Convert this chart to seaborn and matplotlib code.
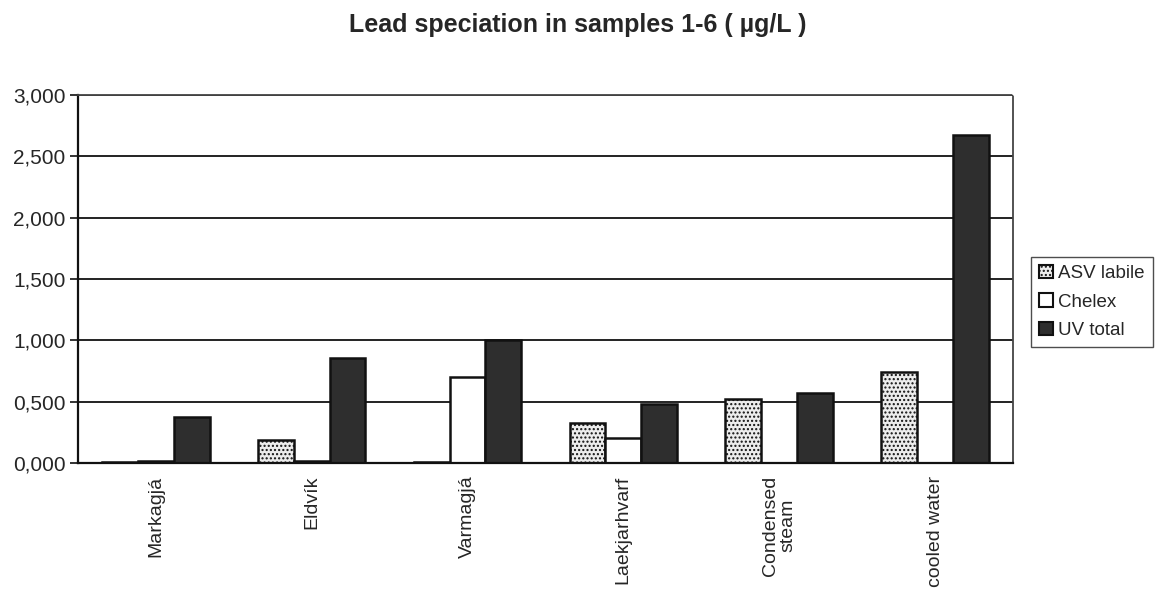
import numpy as np
import pandas as pd
import matplotlib
matplotlib.use("Agg")
import matplotlib.pyplot as plt
from matplotlib.patches import Patch
from matplotlib.ticker import FuncFormatter, MultipleLocator, FixedLocator
import seaborn as sns

# Sample sites and lead fractions (µg/L)
sites = ["Markagjá", "Eldvík", "Varmagjá", "Laekjarhvarf", "Condensed\nsteam", "cooled water"]
series = ["ASV labile", "Chelex", "UV total"]
asv_labile = [0.005, 0.190, 0.010, 0.330, 0.525, 0.745]
chelex = [0.015, 0.020, 0.700, 0.200, 0.000, 0.000]
uv_total = [0.375, 0.860, 1.000, 0.485, 0.570, 2.675]

df = pd.DataFrame({
    "site": sites * 3,
    "fraction": [series[0]] * 6 + [series[1]] * 6 + [series[2]] * 6,
    "value": asv_labile + chelex + uv_total,
})

sns.set_style("white")
plt.rcParams["font.family"] = ["Liberation Sans", "DejaVu Sans"]
plt.rcParams["hatch.color"] = "#333333"
plt.rcParams["hatch.linewidth"] = 1.0

fills = {"ASV labile": "#ececec", "Chelex": "#ffffff", "UV total": "#2e2e2e"}
hatches = {"ASV labile": "....", "Chelex": "", "UV total": ""}

fig = plt.figure(figsize=(11.55, 5.91), dpi=100)
ax = fig.add_axes([0.0675, 0.2166, 0.8095, 0.6226])

sns.barplot(data=df, x="site", y="value", hue="fraction", hue_order=series,
            palette=fills, width=0.69, gap=0, edgecolor="#111111", linewidth=1.8,
            errorbar=None, legend=False, ax=ax)

for container, name in zip(ax.containers, series):
    for bar in container:
        bar.set_hatch(hatches[name])

ax.set_ylim(0, 3.0)
ax.set_xlim(-0.5, len(sites) - 0.5)
ax.yaxis.set_major_locator(MultipleLocator(0.5))
ax.yaxis.set_major_formatter(FuncFormatter(lambda v, p: f"{v:,.3f}".replace(".", ",")))
ax.grid(axis="y", color="#111111", linewidth=1.3)
ax.set_axisbelow(True)

ax.set_xlabel("")
ax.set_ylabel("")
ax.set_xticks(range(len(sites)))
ax.set_xticklabels(sites, rotation=90, fontsize=14, linespacing=1.0)
ax.tick_params(axis="x", which="major", length=0, pad=9)
ax.xaxis.set_minor_locator(FixedLocator(np.arange(-0.5, len(sites), 1.0)))
ax.tick_params(axis="x", which="minor", direction="inout", length=10, width=1.2, color="#111111")
ax.tick_params(axis="y", which="major", direction="out", length=6, width=1.2,
               color="#111111", labelsize=15, left=True, pad=3)

for side in ["left", "bottom"]:
    ax.spines[side].set_color("#111111")
    ax.spines[side].set_linewidth(1.6)
for side in ["top", "right"]:
    ax.spines[side].set_color("#444444")
    ax.spines[side].set_linewidth(1.3)
    ax.spines[side].set_linestyle((0, (1, 1)))

fig.text(0.5, 0.946, "Lead speciation in samples 1-6 ( µg/L )", ha="center", va="baseline",
         fontsize=18, fontweight="bold")

handles = [Patch(facecolor=fills[s], edgecolor="#111111", hatch=hatches[s], linewidth=1.5, label=s)
           for s in series]
leg = fig.legend(handles=handles, loc="center left", bbox_to_anchor=(0.8926, 0.489),
                 frameon=True, fancybox=False, fontsize=13.5, handlelength=0.7, handleheight=0.7,
                 handletextpad=0.3, borderpad=0.45, labelspacing=0.6, borderaxespad=0)
leg.get_frame().set_edgecolor("#222222")
leg.get_frame().set_linewidth(1.0)

# center the lines of the two-line site name
fig.canvas.draw()
for tick in ax.xaxis.get_major_ticks():
    tick.label1.set_multialignment("center")

fig.savefig("out.png", dpi=100)
